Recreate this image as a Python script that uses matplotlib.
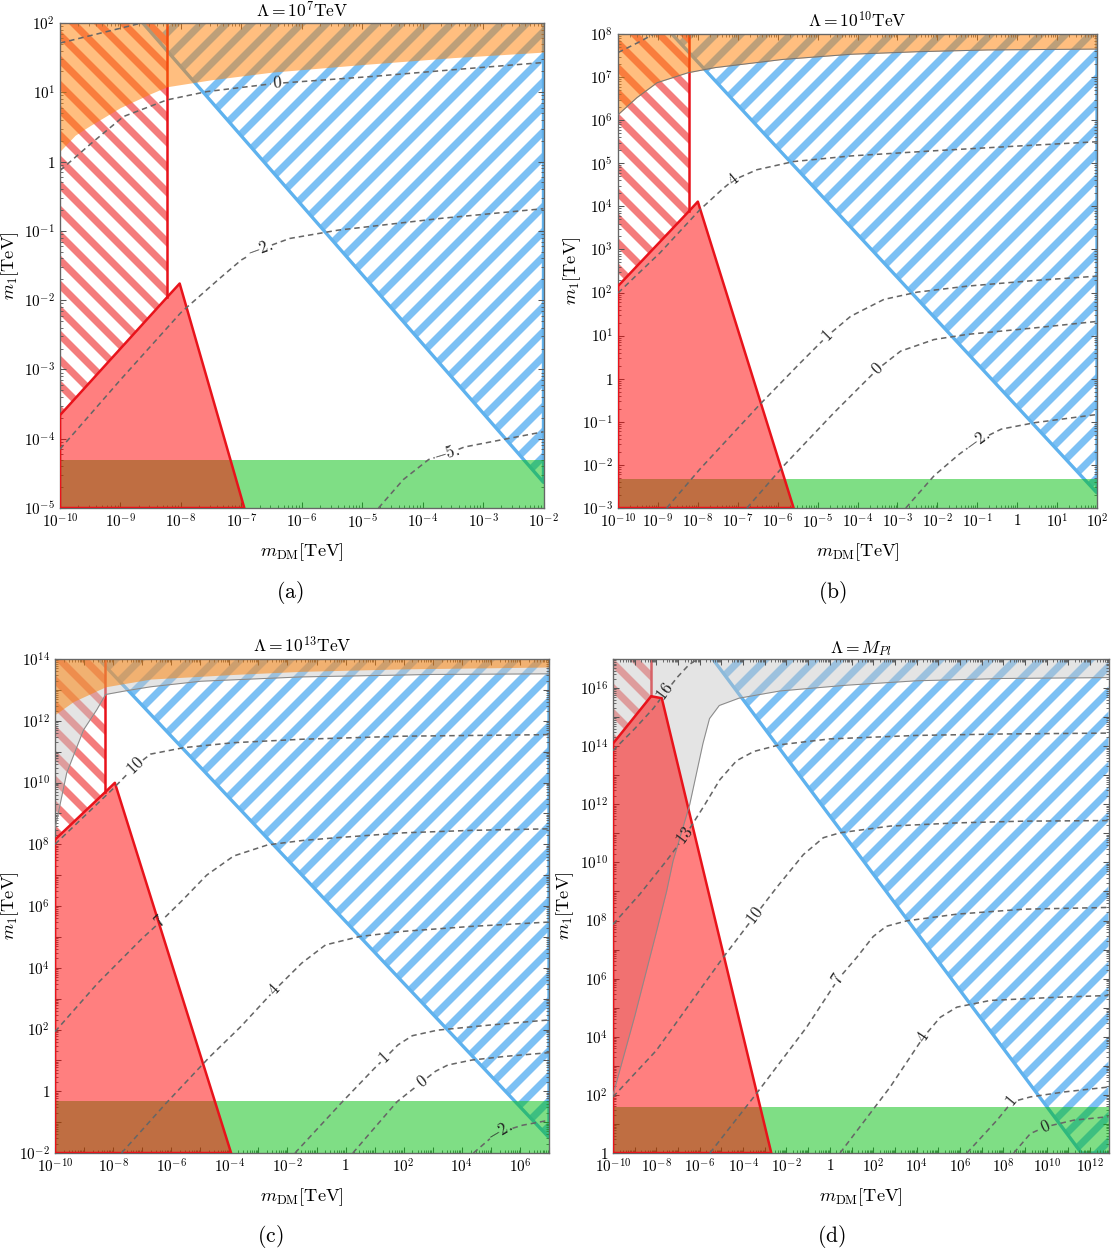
import numpy as np
import matplotlib
matplotlib.use("Agg")
import matplotlib.pyplot as plt
from matplotlib.ticker import FuncFormatter, LogLocator

plt.rcParams['mathtext.fontset'] = 'cm'
plt.rcParams['font.family'] = ['DejaVu Serif']
plt.rcParams['hatch.linewidth'] = 3.4

DPI = 150

# all numbers are log10 of the mass in TeV

# ---------------- (a)  Lambda = 1e7 TeV ----------------
a_xlim = (-10, -2)
a_ylim = (-5, 2)
a_red_x = [-10, -10, -8.23, -8.02, -6.95]
a_red_y = [-5, -3.66, -1.96, -1.76, -5]
a_redhatch_x = [-10, -8.23, -8.23, -10]
a_redhatch_y = [-3.66, -1.96, 2, 2]
a_blue_x = [-8.63, -2, -2]
a_blue_y = [2, -4.63, 2]
a_orange_x = [-10, -9.75, -9.5, -9.0, -8.5, -8.23, -7.5, -6.5, -5.0, -3.5, -2.0]
a_orange_y = [0.15, 0.38, 0.52, 0.78, 0.98, 1.08, 1.18, 1.29, 1.40, 1.50, 1.58]
a_green_top = -4.30
a_contours = [
    (None, [-10, -9.3, -8.65], [1.71, 1.86, 2.0], None),
    ('0', [-10, -9.5, -8.95, -8.23, -7.57, -6.47, -4.81, -3.43, -2],
          [-0.13, 0.25, 0.65, 0.89, 1.01, 1.125, 1.23, 1.33, 1.43], -6.41),
    ('-2.', [-10, -9, -8, -7.35, -7.0, -6.7, -6.2, -5.4, -3.7, -2],
            [-4.15, -3.15, -2.18, -1.68, -1.42, -1.27, -1.11, -0.99, -0.82, -0.68], -6.69),
    ('-5.', [-4.73, -4.32, -3.9, -3.6, -3.31, -2.72, -2],
            [-5, -4.59, -4.30, -4.22, -4.12, -4.02, -3.90], -3.6),
]

# ---------------- (b)  Lambda = 1e10 TeV ----------------
b_xlim = (-10, 2)
b_ylim = (-3, 8)
b_red_x = [-10, -10, -8.22, -8.0, -5.6]
b_red_y = [-3, 2.15, 3.89, 4.11, -3]
b_redhatch_x = [-10, -8.22, -8.22, -10]
b_redhatch_y = [2.15, 3.89, 8, 8]
b_blue_x = [-8.65, 2, 2]
b_blue_y = [8, -2.65, 8]
b_orange_x = [-10, -9.53, -9.02, -8.25, -7.57, -5.87, -4.16, -2.46, -0.75, 2]
b_orange_y = [6.125, 6.52, 6.87, 7.10, 7.22, 7.41, 7.53, 7.59, 7.63, 7.65]
b_green_top = -2.33
b_contours = [
    (None, [-10, -9.5, -9.1], [7.57, 7.8, 8.0], None),
    ('4', [-10, -8.95, -7.95, -7.36, -7.11, -6.52, -5.6, -4.17, -2.08, 0.02, 2],
          [1.99, 2.92, 3.92, 4.42, 4.61, 4.85, 5.04, 5.17, 5.29, 5.40, 5.50], -7.11),
    ('1', [-8.78, -7.95, -6.44, -5.43, -4.76, -4.17, -3.34, -2.5, -1.24, 0.44, 2],
          [-3, -2.1, -0.59, 0.37, 0.99, 1.45, 1.84, 2.01, 2.15, 2.28, 2.38], -4.76),
    ('0', [-6.77, -5.85, -4.59, -3.5, -2.92, -2.08, -1.24, 0.44, 2],
          [-3, -2.02, -0.79, 0.22, 0.64, 0.91, 1.03, 1.18, 1.33], -3.5),
    ('-2.', [-2.79, -2.08, -1.45, -0.99, -0.4, 0.44, 2],
            [-3, -2.25, -1.75, -1.44, -1.17, -1.02, -0.83], -0.99),
]

# ---------------- (c)  Lambda = 1e13 TeV ----------------
c_xlim = (-10, 7)
c_ylim = (-2, 14)
c_red_x = [-10, -10, -8.27, -7.94, -3.94]
c_red_y = [-2, 8.15, 9.69, 9.99, -2]
c_redhatch_x = [-10, -8.27, -8.27, -10]
c_redhatch_y = [8.15, 9.69, 14, 14]
c_blue_x = [-8.5, 7, 7]
c_blue_y = [14, -1.5, 14]
c_orange_x = [-10, -9.37, -8.26, -6.71, -3.84, -1.52, 2, 7]
c_orange_y = [12.2, 12.62, 13.1, 13.35, 13.5, 13.6, 13.68, 13.74]
c_gray_x = [-10, -9.6, -9.02, -8.56, -8.26, -7.5, -6.71, -4.98, -1.52, 3, 7]
c_gray_y = [8.5, 10.3, 11.7, 12.36, 12.85, 12.98, 13.1, 13.28, 13.42, 13.5, 13.52]
c_green_top = -0.33
c_contours = [
    ('10', [-10, -9, -8, -7.36, -7.23, -6.71, -5.56, -3.84, -1.52, 2, 7],
           [8.0, 8.9, 9.8, 10.42, 10.54, 10.92, 11.13, 11.29, 11.4, 11.5, 11.55], -7.23),
    ('7', [-10, -8.53, -7.0, -6.36, -5.6, -4.78, -3.85, -2.68, -1.5, -0.34, 2.0, 4.34, 7],
          [1.93, 3.5, 4.95, 5.5, 6.2, 7.0, 7.62, 7.98, 8.12, 8.21, 8.37, 8.45, 8.5], -6.36),
    ('4', [-7.71, -6.19, -4.67, -3.61, -2.44, -1.51, -0.69, 0.48, 2.0, 4.34, 7],
          [-2, -0.4, 1.12, 2.09, 3.28, 4.15, 4.74, 5.01, 5.18, 5.34, 5.48], -2.44),
    ('1', [-1.74, -0.11, 1.0, 1.36, 1.8, 2.3, 3.17, 4.92, 7],
          [-2, -0.34, 0.75, 1.08, 1.5, 1.8, 1.98, 2.14, 2.31], 1.36),
    ('0', [0.25, 1.77, 2.64, 3.1, 3.52, 4.34, 5.5, 7],
          [-2, -0.34, 0.31, 0.65, 0.85, 1.01, 1.13, 1.25], 2.64),
    ('-2.', [4.4, 5.04, 5.33, 6.09, 7], [-2, -1.48, -1.32, -1.10, -0.94], 5.33),
]

# ---------------- (d)  Lambda = M_Pl ----------------
d_xlim = (-10, 12.85)
d_ylim = (0, 17)
d_red_x = [-10, -10, -8.24, -7.75, -2.7]
d_red_y = [0, 14.09, 15.72, 15.65, 0]
d_redhatch_x = [-10, -8.24, -8.24, -10]
d_redhatch_y = [14.09, 15.72, 17, 17]
d_blue_x = [-5.4, 11.6, 12.85, 12.85]
d_blue_y = [17, 0, 0, 17]
d_gray_x = [-10, -9, -8, -7.53, -7.23, -6.46, -5.85, -5.55, -5.1, -4.2, -2.3, 0.8, 4, 8, 12.85]
d_gray_y = [2.0, 4.7, 7.6, 9.0, 10.05, 12.0, 14.1, 14.95, 15.4, 15.65, 15.9, 16.1, 16.25, 16.33, 16.36]
d_green_top = 1.6
d_contours = [
    ('16', [-10, -9, -8.14, -7.57, -7.0, -6.5, -6.1],
           [13.85, 14.6, 15.3, 15.87, 16.4, 16.8, 17.0], -7.57),
    ('13', [-10, -8.77, -7.54, -6.69, -5.84, -5.07, -4.3, -3.5, -2.3, 0, 4, 8, 12.85],
           [7.87, 8.9, 10.05, 10.9, 11.9, 12.85, 13.5, 13.82, 14.05, 14.25, 14.37, 14.42, 14.45], -6.69),
    ('10', [-10, -8.0, -4.92, -3.46, -2.46, -1.22, -0.3, 0.47, 2.78, 5.86, 8.94, 12.85],
           [1.93, 3.53, 6.73, 8.16, 9.13, 10.27, 10.85, 11.02, 11.25, 11.36, 11.42, 11.44], -3.46),
    ('7', [-5.53, -3.38, -1.07, 0.39, 1.24, 2.0, 2.6, 3.55, 5.86, 8.94, 12.85],
          [0, 2.05, 4.33, 5.99, 6.73, 7.45, 7.8, 7.99, 8.22, 8.39, 8.45], 0.39),
    ('4', [0.47, 2.78, 4.32, 5.09, 5.86, 7.4, 10.48, 12.85],
          [0, 2.27, 3.99, 4.67, 5.02, 5.25, 5.36, 5.42], 4.32),
    ('1', [6.32, 7.71, 8.4, 9.25, 10.79, 12.85], [0, 1.13, 1.76, 1.93, 2.1, 2.27], 8.4),
    ('0', [8.48, 9.25, 9.94, 11.25, 12.85], [0, 0.67, 0.9, 1.13, 1.25], 9.94),
]

RED_LINE = '#e8131b'
RED_HATCH = '#f47c7c'
BLUE_HATCH = '#7cc0f4'
BLUE_LINE = '#5fb2ee'
ORANGE = '#ff7f00'
GREEN = (0.0, 0.75, 0.05)
GRAY = '#c4c4c4'
DASH = '#666666'


def P(v):
    return 10.0 ** np.asarray(v, dtype=float)


def tick_fmt(step):
    def f(v, pos):
        e = int(round(np.log10(v)))
        if e % step:
            return ''
        if e == 0:
            return '$1$'
        return '$10^{%d}$' % e
    return FuncFormatter(f)


def draw_contour(ax, text, xs, ys, lx):
    """dashed contour, broken where its label sits (like Mathematica's inline labels)"""
    if text is None:
        ax.plot(P(xs), P(ys), color=DASH, lw=0.75, dashes=(3.5, 2.5), zorder=4)
        return
    pts = ax.transData.transform(np.column_stack([P(xs), P(ys)]))
    ly = np.interp(lx, xs, ys)
    pl = ax.transData.transform([(10 ** lx, 10 ** ly)])[0]
    i = int(np.clip(np.searchsorted(xs, lx), 1, len(xs) - 1))
    seg = np.diff(pts, axis=0)
    s = np.concatenate([[0], np.cumsum(np.hypot(seg[:, 0], seg[:, 1]))])
    s0 = s[i - 1] + np.hypot(*(pl - pts[i - 1]))
    gap = 3 + 3.2 * len(text)

    def at(sv):
        return [np.interp(sv, s, pts[:, 0]), np.interp(sv, s, pts[:, 1])]

    inv = ax.transData.inverted()
    first = [q for q, sv in zip(pts, s) if sv < s0 - gap] + [at(s0 - gap)]
    second = [at(s0 + gap)] + [q for q, sv in zip(pts, s) if sv > s0 + gap]
    for piece in (first, second):
        d = inv.transform(np.array(piece))
        ax.plot(d[:, 0], d[:, 1], color=DASH, lw=0.75, dashes=(3.5, 2.5), zorder=4)

    d = pts[i] - pts[i - 1]
    ang = np.degrees(np.arctan2(d[1], d[0]))
    ax.text(10 ** lx, 10 ** ly, '$%s$' % text, rotation=ang, rotation_mode='anchor',
            ha='center', va='center', fontsize=8, color='#222222', zorder=6)


def draw_panel(ax, p):
    ax.set_xscale('log')
    ax.set_yscale('log')
    ax.set_xlim(P(p['xlim']))
    ax.set_ylim(P(p['ylim']))
    ybot, ytop = P(p['ylim'])

    # blue hatched region and its edge
    ax.fill(P(p['blue_x']), P(p['blue_y']), facecolor='none',
            edgecolor=BLUE_HATCH, hatch='//', lw=0, zorder=1)
    bx = p['blue_x'][:-1] if len(p['blue_x']) > 3 else p['blue_x']
    by = p['blue_y'][:-1] if len(p['blue_y']) > 3 else p['blue_y']
    ax.plot(P(bx), P(by), color=BLUE_LINE, lw=1.6, zorder=1.4)

    # red hatched region
    ax.fill(P(p['redhatch_x']), P(p['redhatch_y']), facecolor='none',
            edgecolor=RED_HATCH, hatch='\\\\', lw=0, zorder=1.2)
    ax.plot(P(p['redhatch_x'][1:3]), P(p['redhatch_y'][1:3]), color=RED_LINE, lw=1.2, zorder=1.45)

    if 'gray_x' in p:
        ax.fill_between(P(p['gray_x']), P(p['gray_y']), ytop, color=GRAY, alpha=0.45,
                        lw=0, zorder=1.5)
        ax.plot(P(p['gray_x']), P(p['gray_y']), color='#8a8a8a', lw=0.5, zorder=3.6)

    if 'orange_x' in p:
        ax.fill_between(P(p['orange_x']), P(p['orange_y']), ytop, color=ORANGE, alpha=0.5,
                        lw=0, zorder=2)
        if p.get('orange_edge'):
            ax.plot(P(p['orange_x']), P(p['orange_y']), color='#777777', lw=0.5, zorder=3.6)

    ax.axhspan(ybot, 10 ** p['green_top'], color=GREEN, alpha=0.5, lw=0, zorder=2.5)

    rx = list(p['red_x']) + [p['red_x'][0]]
    ry = list(p['red_y']) + [p['red_y'][0]]
    ax.fill(P(p['red_x']), P(p['red_y']), facecolor=(1, 0, 0, 0.5), edgecolor='none', zorder=3)
    ax.plot(P(rx), P(ry), color=RED_LINE, lw=1.2, zorder=3.5)

    for lab, xs, ys, lx in p['contours']:
        draw_contour(ax, lab, xs, ys, lx)

    ax.xaxis.set_major_locator(LogLocator(base=10, numticks=100))
    ax.yaxis.set_major_locator(LogLocator(base=10, numticks=100))
    ax.xaxis.set_minor_locator(LogLocator(base=10, subs=np.arange(2, 10), numticks=100))
    ax.yaxis.set_minor_locator(LogLocator(base=10, subs=np.arange(2, 10), numticks=100))
    ax.xaxis.set_major_formatter(tick_fmt(p['step']))
    ax.yaxis.set_major_formatter(tick_fmt(p['step']))
    ax.xaxis.set_minor_formatter(FuncFormatter(lambda v, pos: ''))
    ax.yaxis.set_minor_formatter(FuncFormatter(lambda v, pos: ''))
    ax.tick_params(which='both', direction='in', top=True, right=True, color='#555555',
                   labelsize=7.3, pad=2.4)
    ax.tick_params(which='major', length=2.8, width=0.5)
    ax.tick_params(which='minor', length=1.6, width=0.4)
    for s in ax.spines.values():
        s.set_color('#666666')
        s.set_linewidth(0.65)
    ax.set_title(p['title'], fontsize=8.4, pad=3)
    ax.set_xlabel(r'$m_{\rm DM}[\mathrm{TeV}]$', fontsize=8.8, labelpad=5)
    ax.set_ylabel(r'$m_1[\mathrm{TeV}]$', fontsize=8.8)
    ax.yaxis.set_label_coords(p['ylab_x'], 0.5)


panels = [
    dict(rect=[60, 23, 543.5, 508], xlim=a_xlim, ylim=a_ylim, step=1, ylab_x=-0.081,
         title=r'$\Lambda = 10^{7}\mathrm{TeV}$', red_x=a_red_x, red_y=a_red_y,
         redhatch_x=a_redhatch_x, redhatch_y=a_redhatch_y, blue_x=a_blue_x, blue_y=a_blue_y,
         orange_x=a_orange_x, orange_y=a_orange_y, green_top=a_green_top,
         contours=a_contours, tag='(a)', tag_xy=(290, 592)),
    dict(rect=[618, 34, 1097, 508], xlim=b_xlim, ylim=b_ylim, step=1, ylab_x=-0.073,
         title=r'$\Lambda = 10^{10}\mathrm{TeV}$', red_x=b_red_x, red_y=b_red_y,
         redhatch_x=b_redhatch_x, redhatch_y=b_redhatch_y, blue_x=b_blue_x, blue_y=b_blue_y,
         orange_x=b_orange_x, orange_y=b_orange_y, orange_edge=True, green_top=b_green_top,
         contours=b_contours, tag='(b)', tag_xy=(832, 592)),
    dict(rect=[55, 659, 549, 1153], xlim=c_xlim, ylim=c_ylim, step=2, ylab_x=-0.069,
         title=r'$\Lambda = 10^{13}\mathrm{TeV}$', red_x=c_red_x, red_y=c_red_y,
         redhatch_x=c_redhatch_x, redhatch_y=c_redhatch_y, blue_x=c_blue_x, blue_y=c_blue_y,
         orange_x=c_orange_x, orange_y=c_orange_y, gray_x=c_gray_x, gray_y=c_gray_y,
         green_top=c_green_top, contours=c_contours, tag='(c)', tag_xy=(270, 1237)),
    dict(rect=[613, 659, 1108.5, 1153], xlim=d_xlim, ylim=d_ylim, step=2, ylab_x=-0.075,
         title=r'$\Lambda = M_{Pl}$', red_x=d_red_x, red_y=d_red_y,
         redhatch_x=d_redhatch_x, redhatch_y=d_redhatch_y, blue_x=d_blue_x, blue_y=d_blue_y,
         gray_x=d_gray_x, gray_y=d_gray_y, green_top=d_green_top,
         contours=d_contours, tag='(d)', tag_xy=(831, 1237)),
]

W, H = 1113, 1255
fig = plt.figure(figsize=(W / DPI, H / DPI), dpi=DPI)
for p in panels:
    l, t, r, b = p['rect']
    ax = fig.add_axes([l / W, 1 - b / H, (r - l) / W, (b - t) / H])
    draw_panel(ax, p)
    fig.text(p['tag_xy'][0] / W, 1 - p['tag_xy'][1] / H, r'$\mathrm{%s}$' % p['tag'],
             fontsize=10.4, ha='center', va='center')

fig.savefig('out.png', dpi=DPI)
